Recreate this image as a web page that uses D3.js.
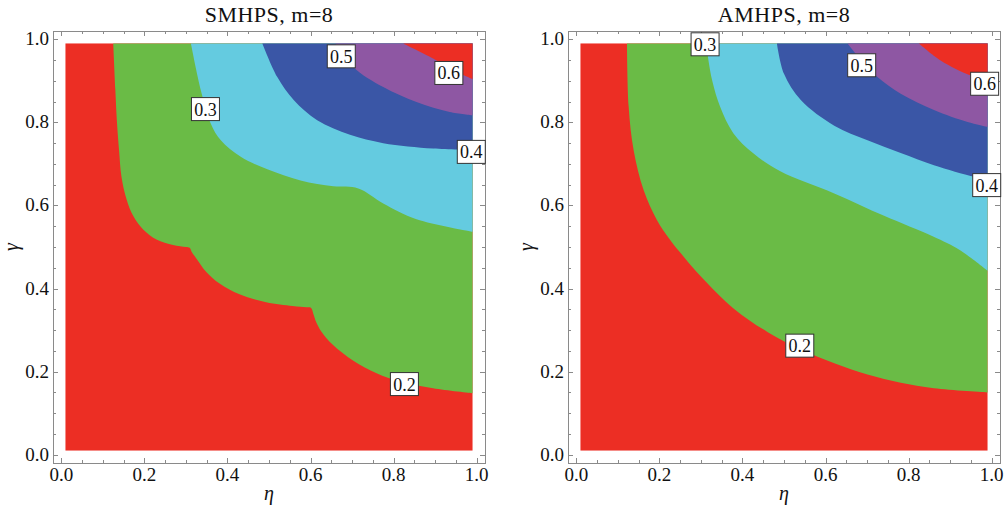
<!DOCTYPE html>
<html>
<head>
<meta charset="UTF-8">
<title>SMHPS / AMHPS contours</title>
<script src="https://d3js.org/d3.v7.min.js"></script>
<style>
	body { margin: 0; background: #fff; }
	text { font-family: "Liberation Serif", "Times New Roman", serif; fill: #111; }
</style>
</head>
<body>
<div id="chart"></div>
<script>
	// contour levels and the colour of the region above each one
	let levels = ["0.2", "0.3", "0.4", "0.5", "0.6"];
	let levelColors = ["#6abb46", "#64cbe0", "#3a56a6", "#8e57a3", "#ec2e24"];
	let baseColor = "#ec2e24";
	let ticks = [0, 0.2, 0.4, 0.6, 0.8, 1.0];
	let minorTicks = d3.range(0, 1.0001, 0.05);

	// SMHPS contour lines, [eta, gamma], from top edge to right edge
	let smhps02 = [[0.125,0.99],[0.13,0.88],[0.134,0.80],[0.139,0.733],[0.145,0.668],[0.157,0.615],[0.173,0.575],[0.197,0.542],[0.229,0.518],[0.269,0.505],[0.300,0.500],[0.309,0.498],[0.314,0.488],[0.325,0.4725],[0.349,0.44],[0.381,0.412],[0.429,0.386],[0.493,0.367],[0.557,0.358],[0.590,0.355],[0.601,0.3535],[0.607,0.338],[0.614,0.318],[0.625,0.298],[0.653,0.265],[0.703,0.226],[0.759,0.196],[0.815,0.176],[0.895,0.16],[0.99,0.148]];
	let smhps03 = [[0.312,0.99],[0.336,0.877],[0.36,0.797],[0.384,0.757],[0.432,0.717],[0.496,0.687],[0.576,0.660],[0.655,0.646],[0.715,0.641],[0.775,0.605],[0.855,0.567],[0.99,0.537]];
	let smhps04 = [[0.484,0.99],[0.52,0.909],[0.56,0.853],[0.616,0.805],[0.695,0.770],[0.775,0.750],[0.895,0.737],[0.99,0.733]];
	let smhps05 = [[0.66,0.99],[0.703,0.933],[0.775,0.885],[0.855,0.849],[0.935,0.825],[0.99,0.817]];
	let smhps06 = [[0.823,0.99],[0.895,0.954],[0.959,0.918],[0.99,0.904]];
	let smhpsLabels = [["0.2",0.826,0.17],["0.3",0.347,0.832],["0.4",0.987,0.729],["0.5",0.674,0.959],["0.6",0.933,0.919]];

	// AMHPS contour lines
	let amhps02 = [[0.122,0.99],[0.126,0.838],[0.138,0.733],[0.162,0.637],[0.194,0.565],[0.226,0.517],[0.26,0.475],[0.30,0.429],[0.38,0.351],[0.461,0.295],[0.541,0.253],[0.621,0.220],[0.701,0.193],[0.781,0.173],[0.861,0.160],[0.99,0.15]];
	let amhps03 = [[0.314,0.99],[0.318,0.95],[0.328,0.897],[0.346,0.838],[0.378,0.774],[0.426,0.7255],[0.49,0.683],[0.621,0.629],[0.741,0.575],[0.859,0.525],[0.923,0.4925],[0.99,0.443]];
	let amhps04 = [[0.483,0.99],[0.5,0.917],[0.541,0.853],[0.621,0.792],[0.701,0.757],[0.781,0.726],[0.861,0.697],[0.957,0.669],[0.99,0.662]];
	let amhps05 = [[0.653,0.99],[0.69,0.945],[0.725,0.909],[0.781,0.869],[0.861,0.830],[0.942,0.801],[0.99,0.789]];
	let amhps06 = [[0.825,0.99],[0.877,0.949],[0.95,0.913],[0.99,0.905]];
	let amhpsLabels = [["0.2",0.538,0.2625],["0.3",0.31,0.988],["0.4",0.988,0.649],["0.5",0.687,0.9375],["0.6",0.983,0.893]];

	let panels = [
		{ title: "SMHPS, m=8", left: 53, contours: [smhps02, smhps03, smhps04, smhps05, smhps06], labels: smhpsLabels },
		{ title: "AMHPS, m=8", left: 568, contours: [amhps02, amhps03, amhps04, amhps05, amhps06], labels: amhpsLabels }
	];

	let width = 1004;
	let height = 508;
	let plotTop = 31;
	let size = 432;
	let lo = 0.01, hi = 0.99;

	let svg = d3.select("#chart").append("svg")
		.attr("width", width)
		.attr("height", height);

	panels.forEach(p => {
		let x = d3.scaleLinear().domain([-0.02, 1.02]).range([p.left, p.left + size]);
		let y = d3.scaleLinear().domain([-0.02, 1.02]).range([plotTop + size, plotTop]);
		let g = svg.append("g");

		// base region
		g.append("rect")
			.attr("x", x(lo)).attr("y", y(hi))
			.attr("width", x(hi) - x(lo)).attr("height", y(lo) - y(hi))
			.attr("fill", baseColor);

		// each level fills everything above/right of its contour
		let line = d3.line().x(d => x(d[0])).y(d => y(d[1])).curve(d3.curveCatmullRom.alpha(0.5));
		p.contours.forEach((c, i) => {
			g.append("path")
				.attr("d", line(c) + "L" + x(hi) + "," + y(hi) + "Z")
				.attr("fill", levelColors[i]);
		});

		// frame
		g.append("rect")
			.attr("x", p.left + 0.5).attr("y", plotTop + 0.5)
			.attr("width", size).attr("height", size)
			.attr("fill", "none").attr("stroke", "#8a8a8a").attr("stroke-width", 1);

		// ticks on all four sides, pointing inward
		let tickG = g.append("g").attr("stroke", "#8a8a8a").attr("stroke-width", 1);
		minorTicks.forEach(t => {
			let major = Math.abs(t * 5 - Math.round(t * 5)) < 1e-6;
			let len = major ? 5 : 3;
			let px = Math.round(x(t)) + 0.5;
			let py = Math.round(y(t)) + 0.5;
			tickG.append("line").attr("x1", px).attr("x2", px).attr("y1", plotTop + size).attr("y2", plotTop + size - len);
			tickG.append("line").attr("x1", px).attr("x2", px).attr("y1", plotTop).attr("y2", plotTop + len);
			tickG.append("line").attr("y1", py).attr("y2", py).attr("x1", p.left).attr("x2", p.left + len);
			tickG.append("line").attr("y1", py).attr("y2", py).attr("x1", p.left + size).attr("x2", p.left + size - len);
		});

		g.selectAll(".xtick")
			.data(ticks)
			.join("text")
			.attr("x", d => x(d))
			.attr("y", plotTop + size + 18)
			.attr("text-anchor", "middle")
			.attr("font-size", 19)
			.text(d => d.toFixed(1));

		g.selectAll(".ytick")
			.data(ticks)
			.join("text")
			.attr("x", p.left - 4)
			.attr("y", d => y(d) + 6)
			.attr("text-anchor", "end")
			.attr("font-size", 19)
			.text(d => d.toFixed(1));

		// contour labels
		let lab = g.selectAll(".clabel")
			.data(p.labels)
			.join("g")
			.attr("transform", d => "translate(" + x(d[1]) + "," + y(d[2]) + ")");
		lab.append("rect")
			.attr("x", -14).attr("y", -11.5)
			.attr("width", 28).attr("height", 23)
			.attr("fill", "#fff").attr("stroke", "#333").attr("stroke-width", 1);
		lab.append("text")
			.attr("text-anchor", "middle")
			.attr("y", 6.5)
			.attr("font-size", 18)
			.text(d => d[0]);

		// titles and axis names
		g.append("text")
			.attr("x", p.left + size / 2)
			.attr("y", 22)
			.attr("text-anchor", "middle")
			.attr("font-size", 22)
			.attr("letter-spacing", 0.5)
			.text(p.title);

		g.append("text")
			.attr("x", p.left + size / 2)
			.attr("y", 500)
			.attr("text-anchor", "middle")
			.attr("font-size", 20)
			.attr("font-style", "italic")
			.text("η");

		g.append("text")
			.attr("transform", "translate(" + (p.left - 35) + "," + (plotTop + size / 2) + ") rotate(-90)")
			.attr("text-anchor", "middle")
			.attr("font-size", 20)
			.attr("font-style", "italic")
			.text("γ");
	});
</script>
</body>
</html>
